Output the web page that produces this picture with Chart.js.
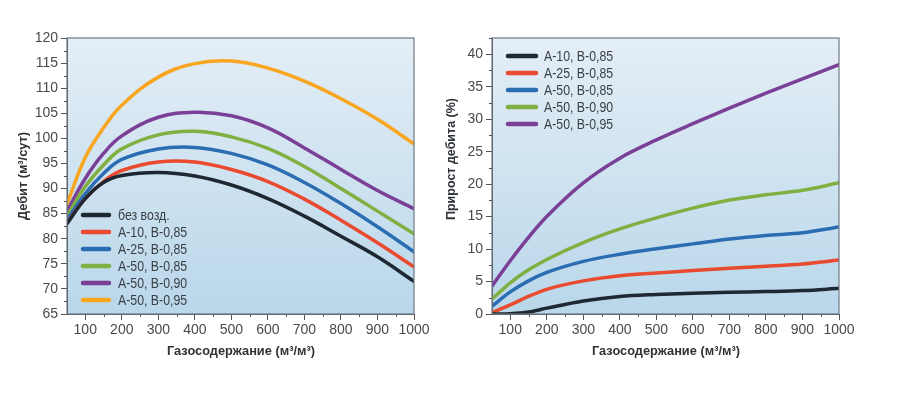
<!DOCTYPE html>
<html><head><meta charset="utf-8">
<script src="https://cdn.jsdelivr.net/npm/chart.js@4/dist/chart.umd.min.js"></script>
<style>
html,body{margin:0;padding:0;background:#fff;width:899px;height:399px;overflow:hidden;}
#c1{position:absolute;left:0;top:0;}
#c2{position:absolute;left:440px;top:0;}
</style></head>
<body>
<canvas id="c1" width="440" height="399"></canvas>
<canvas id="c2" width="459" height="399"></canvas>
<script>
// ---- data ----
const GAS = [50, 100, 150, 200, 300, 400, 500, 600, 700, 800, 900, 1000];
const X_TICKS = [100, 200, 300, 400, 500, 600, 700, 800, 900, 1000];
const X_MINOR = [150, 250, 350, 450, 550, 650, 750, 850, 950];

const LEFT_LABELS = ['без возд.', 'А-10, В-0,85', 'А-25, В-0,85', 'А-50, В-0,85', 'А-50, В-0,90', 'А-50, В-0,95'];
const DEBIT_NONE  = [83.0, 88.0, 91.2, 92.6, 93.2, 92.5, 90.7, 88.0, 84.5, 80.5, 76.4, 71.5];
const DEBIT_A10   = [83.2, 88.0, 91.4, 93.6, 95.3, 95.3, 93.8, 91.4, 87.9, 83.7, 79.2, 74.4];
const DEBIT_A25   = [83.8, 89.0, 93.0, 95.8, 97.9, 98.2, 97.0, 94.7, 91.2, 87.0, 82.4, 77.4];
const DEBIT_A50   = [84.5, 90.4, 94.7, 97.9, 100.7, 101.4, 100.3, 98.0, 94.4, 90.0, 85.5, 81.0];
const DEBIT_B90   = [85.5, 92.0, 97.0, 100.5, 104.2, 105.2, 104.5, 102.1, 98.1, 93.8, 89.6, 86.0];
const DEBIT_B95   = [86.9, 96.2, 102.1, 106.6, 112.2, 114.9, 115.4, 114.0, 111.4, 107.9, 103.8, 98.9];
const LEFT_Y_TICKS = [65, 70, 75, 80, 85, 90, 95, 100, 105, 110, 115, 120];
const LEFT_Y_MINOR = [67.5, 72.5, 77.5, 82.5, 87.5, 92.5, 97.5, 102.5, 107.5, 112.5, 117.5];

const RIGHT_LABELS = ['А-10, В-0,85', 'А-25, В-0,85', 'А-50, В-0,85', 'А-50, В-0,90', 'А-50, В-0,95'];
const GAIN_A10 = [0.0, 0.05, 0.3, 0.9, 2.0, 2.7, 3.0, 3.2, 3.35, 3.45, 3.6, 3.95];
const GAIN_A25 = [0.2, 1.4, 2.7, 3.8, 5.1, 5.9, 6.3, 6.7, 7.05, 7.35, 7.7, 8.3];
const GAIN_A50 = [1.2, 3.4, 5.1, 6.4, 8.1, 9.2, 10.05, 10.8, 11.55, 12.1, 12.5, 13.4];
const GAIN_B90 = [2.3, 4.8, 6.8, 8.4, 11.0, 13.1, 14.8, 16.3, 17.55, 18.35, 19.05, 20.2];
const GAIN_B95 = [4.3, 8.2, 11.8, 15.0, 20.2, 24.0, 26.8, 29.3, 31.7, 34.0, 36.2, 38.4];
const RIGHT_Y_TICKS = [0, 5, 10, 15, 20, 25, 30, 35, 40];
const RIGHT_Y_MINOR = [2.5, 7.5, 12.5, 17.5, 22.5, 27.5, 32.5, 37.5, 42.5];

const X_TITLE = 'Газосодержание (м³/м³)';
const LEFT_Y_TITLE = 'Дебит (м³/сут)';
const RIGHT_Y_TITLE = 'Прирост дебита (%)';

// ---- styles ----
const C_BLACK = '#1e2833', C_RED = '#ea4a2f', C_BLUE = '#2b6db3', C_GREEN = '#7fb041', C_PURPLE = '#7a3f97', C_ORANGE = '#f8a51f';
const TICK_FONT = {family: '"Liberation Sans", Arial, sans-serif', size: 14};

function ds(label, ys, color, mono){
  return {label, data: GAS.map((x,i)=>({x:x, y:ys[i]})), borderColor: color, backgroundColor: color, borderWidth: 3.5,
    pointRadius: 0, tension: 0.4, cubicInterpolationMode: mono ? 'monotone' : 'default',
    fill: false, borderCapStyle: 'round'};
}

const bgPlugin = {
  id: 'bg',
  beforeDraw(chart){
    const a = chart.chartArea, ctx = chart.ctx;
    const g = ctx.createLinearGradient(0, a.top, 0, a.bottom);
    g.addColorStop(0, '#e4eef6');
    g.addColorStop(1, '#b9d7ea');
    ctx.save(); ctx.fillStyle = g; ctx.fillRect(a.left, a.top, a.right-a.left, a.bottom-a.top); ctx.restore();
  },
  afterDatasetsDraw(chart, args, o){
    const a = chart.chartArea, ctx = chart.ctx;
    ctx.save();
    ctx.strokeStyle = '#6d7884'; ctx.lineWidth = 1.2;
    ctx.strokeRect(a.left, a.top, a.right-a.left, a.bottom-a.top);
    ctx.strokeStyle = '#555'; ctx.lineWidth = 1;
    const xs = chart.scales.x, ys = chart.scales.y;
    ctx.beginPath();
    (o.xMinor||[]).forEach(v=>{ const px = Math.round(xs.getPixelForValue(v))+0.5; ctx.moveTo(px, a.bottom); ctx.lineTo(px, a.bottom+3); });
    (o.yMinor||[]).forEach(v=>{ const py = Math.round(ys.getPixelForValue(v))+0.5; ctx.moveTo(a.left, py); ctx.lineTo(a.left-3, py); });
    ctx.stroke();
    const L = o.legend;
    if (L){
      chart.data.datasets.forEach((d,i)=>{
        const y = L.y + i*L.dy;
        ctx.strokeStyle = d.borderColor; ctx.lineWidth = 4.5; ctx.lineCap = 'round';
        ctx.beginPath(); ctx.moveTo(L.x1, y); ctx.lineTo(L.x2, y); ctx.stroke();
        ctx.save();
        ctx.translate(L.tx, y);
        ctx.scale(0.88, 1);
        ctx.fillStyle = '#3a3f45';
        ctx.font = '14px "Liberation Sans", Arial, sans-serif';
        ctx.textBaseline = 'middle'; ctx.textAlign = 'left';
        ctx.fillText(d.label, 0, 1);
        ctx.restore();
      });
    }
    (o.titles||[]).forEach(t=>{
      ctx.save();
      ctx.font = 'bold 13px "Liberation Sans", Arial, sans-serif';
      const w = ctx.measureText(t.text).width;
      ctx.translate(t.x, t.y);
      if (t.rot) ctx.rotate(-Math.PI/2);
      ctx.scale(t.w / w, 1);
      ctx.fillStyle = '#2f3338';
      ctx.textAlign = 'center'; ctx.textBaseline = 'middle';
      ctx.fillText(t.text, 0, 0);
      ctx.restore();
    });
    ctx.restore();
  }
};

function makeChart(id, datasets, yMin, yMax, yTicks, yMinor, yWidth, pad, legend, titles){
  return new Chart(document.getElementById(id), {
    type: 'line',
    data: {datasets},
    plugins: [bgPlugin],
    options: {
      responsive: false, animation: false, events: [],
      layout: {padding: pad},
      plugins: {legend: {display: false}, tooltip: {enabled: false},
        bg: {xMinor: X_MINOR, yMinor: yMinor, legend, titles}},
      scales: {
        x: {type: 'linear', min: 50, max: 1000,
          afterBuildTicks: s => { s.ticks = X_TICKS.map(v=>({value:v})); },
          afterFit: s => { s.height = 40; },
          grid: {drawOnChartArea: false, tickLength: 6, tickColor: '#555', tickWidth: 1},
          border: {color: '#555', width: 1},
          ticks: {font: TICK_FONT, color: '#4a4a4a', padding: 2, maxRotation: 0, autoSkip: false,
            callback: v => String(v)}},
        y: {type: 'linear', min: yMin, max: yMax,
          afterBuildTicks: s => { s.ticks = yTicks.map(v=>({value:v})); },
          afterFit: s => { s.width = yWidth; },
          grid: {drawOnChartArea: false, tickLength: 6, tickColor: '#555', tickWidth: 1},
          border: {color: '#555', width: 1},
          ticks: {font: TICK_FONT, color: '#4a4a4a', padding: 3, autoSkip: false,
            callback: v => String(v)}}
      }
    }
  });
}

makeChart('c1', [
  ds(LEFT_LABELS[0], DEBIT_NONE, C_BLACK),
  ds(LEFT_LABELS[1], DEBIT_A10, C_RED),
  ds(LEFT_LABELS[2], DEBIT_A25, C_BLUE),
  ds(LEFT_LABELS[3], DEBIT_A50, C_GREEN),
  ds(LEFT_LABELS[4], DEBIT_B90, C_PURPLE),
  ds(LEFT_LABELS[5], DEBIT_B95, C_ORANGE)
], 65, 120, LEFT_Y_TICKS, LEFT_Y_MINOR, 67, {left:0, top:38, right:26, bottom:45},
  {x1: 83, x2: 109, tx: 118, y: 215, dy: 17},
  [{text: X_TITLE, x: 241, y: 351, w: 148}, {text: LEFT_Y_TITLE, x: 23, y: 176, w: 88, rot: true}]);

makeChart('c2', [
  ds(RIGHT_LABELS[0], GAIN_A10, C_BLACK, true),
  ds(RIGHT_LABELS[1], GAIN_A25, C_RED, true),
  ds(RIGHT_LABELS[2], GAIN_A50, C_BLUE, true),
  ds(RIGHT_LABELS[3], GAIN_B90, C_GREEN, true),
  ds(RIGHT_LABELS[4], GAIN_B95, C_PURPLE, true)
], 0, 42.5, RIGHT_Y_TICKS, RIGHT_Y_MINOR, 52, {left:0, top:38, right:60, bottom:45},
  {x1: 68, x2: 96, tx: 104, y: 56, dy: 17},
  [{text: X_TITLE, x: 226, y: 351, w: 148}, {text: RIGHT_Y_TITLE, x: 11, y: 159, w: 122, rot: true}]);
</script>
</body></html>
